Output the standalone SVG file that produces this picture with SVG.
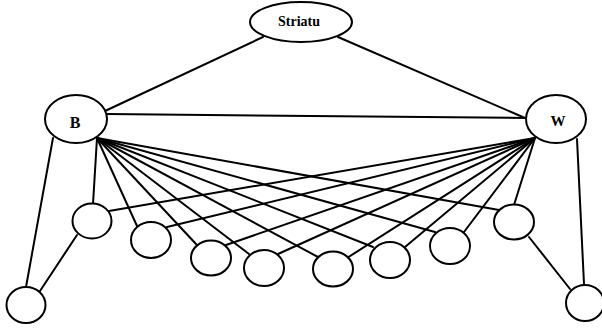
<svg xmlns="http://www.w3.org/2000/svg" width="602" height="329" viewBox="0 0 602 329">
<style>
.n{fill:#fff;stroke:#000;stroke-width:2}
.e line{stroke:#000;stroke-width:2;stroke-linecap:round}
.t{font-family:"Liberation Serif",serif;font-weight:bold;text-anchor:middle;fill:#000}
</style>
<rect width="602" height="329" fill="#fff"/>
<g id="connectors" class="e">
<line x1="263" y1="37" x2="105" y2="111"/>
<line x1="338" y1="37" x2="525" y2="118"/>
<line x1="107" y1="114" x2="526" y2="118"/>
<line x1="53" y1="138" x2="26" y2="287"/>
<line x1="77" y1="235" x2="40" y2="291"/>
<line x1="577" y1="139" x2="584" y2="284"/>
<line x1="529" y1="237" x2="570" y2="289"/>
<line x1="97" y1="138" x2="93" y2="204"/>
<line x1="97" y1="138" x2="137" y2="226"/>
<line x1="97" y1="138" x2="196" y2="244"/>
<line x1="97" y1="138" x2="249" y2="254"/>
<line x1="97" y1="138" x2="318" y2="257"/>
<line x1="97" y1="138" x2="373" y2="247"/>
<line x1="97" y1="138" x2="435" y2="232"/>
<line x1="97" y1="138" x2="499" y2="210"/>
<line x1="535" y1="138" x2="514" y2="205"/>
<line x1="535" y1="138" x2="464" y2="232"/>
<line x1="535" y1="138" x2="405" y2="247"/>
<line x1="535" y1="138" x2="347" y2="258"/>
<line x1="535" y1="138" x2="278" y2="254"/>
<line x1="535" y1="138" x2="226" y2="245"/>
<line x1="535" y1="138" x2="167" y2="227"/>
<line x1="535" y1="138" x2="109" y2="211"/>
</g>
<g id="striatu"><ellipse class="n" cx="301" cy="22" rx="51" ry="20"/><text class="t" x="299" y="26" font-size="14">Striatu</text></g>
<g id="B"><ellipse class="n" cx="76" cy="119" rx="31" ry="24"/><text class="t" x="75" y="128" font-size="16">B</text></g>
<g id="W"><ellipse class="n" cx="556" cy="119" rx="30" ry="24"/><text class="t" x="558" y="126" font-size="15">W</text></g>
<g id="c1"><ellipse class="n" cx="92" cy="221" rx="19.5" ry="17.5"/></g>
<g id="c2"><ellipse class="n" cx="151" cy="240" rx="20" ry="18"/></g>
<g id="c3"><ellipse class="n" cx="211" cy="258" rx="20" ry="17.5"/></g>
<g id="c4"><ellipse class="n" cx="264" cy="268" rx="20" ry="18"/></g>
<g id="c5"><ellipse class="n" cx="333" cy="269" rx="20" ry="17.5"/></g>
<g id="c6"><ellipse class="n" cx="390" cy="260" rx="20" ry="18"/></g>
<g id="c7"><ellipse class="n" cx="450" cy="246" rx="20" ry="18"/></g>
<g id="c8"><ellipse class="n" cx="514" cy="222" rx="20" ry="17.5"/></g>
<g id="bl"><ellipse class="n" cx="26" cy="305" rx="19.5" ry="18"/></g>
<g id="br"><ellipse class="n" cx="585" cy="303" rx="19" ry="18"/></g>
</svg>
